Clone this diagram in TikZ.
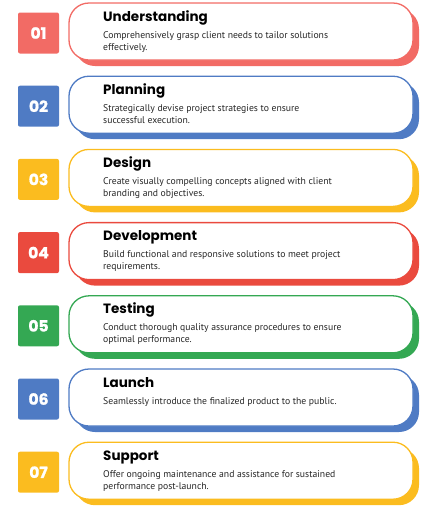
\documentclass[tikz,border=0pt]{standalone}
\usepackage{fontspec}
\setmainfont{PT Sans}
\newfontfamily\popfont{Poppins}
\newfontfamily\popheavy{Poppins}[BoldFeatures={FakeBold=1.2}]
\definecolor{cred}{HTML}{F26B65}
\definecolor{cblue}{HTML}{4F7BC4}
\definecolor{cyellow}{HTML}{FBBC1F}
\definecolor{cred2}{HTML}{EA4A3E}
\definecolor{cgreen}{HTML}{34A853}
\definecolor{ctext}{HTML}{262626}
\tikzset{
  numbox/.style={fill=#1, rounded corners=2pt, minimum width=41pt, minimum height=41pt, inner sep=0pt,
    text=white, font=\popheavy\bfseries\fontsize{15.5}{16}\selectfont},
  ttl/.style={anchor=base west, inner sep=0pt, font=\popfont\bfseries\fontsize{13.5}{14}\selectfont, text=black},
  dsc/.style={anchor=base west, inner sep=0pt, font=\fontsize{9.7}{11}\selectfont, text=ctext},
}
\newcommand\stepcard[6]{%
  \pgfmathsetmacro\tp{3+73.2*(#1-1)}
  \fill[#2, rounded corners=20pt] (75,\tp+6) rectangle (419,\tp+63);
  \draw[#2, line width=1.3pt, fill=white, rounded corners=20pt] (69,\tp) rectangle (413,\tp+57);
  \node[numbox=#2] (sq#1) at (38.5,\tp+30) {#3};
  \node[ttl] (t#1) at (103,\tp+18) {#4};
  \node[dsc] (da#1) at (103,\tp+35) {#5};
  \node[dsc] (db#1) at (103,\tp+47) {#6};
}
\begin{document}
\begin{tikzpicture}[x=1pt,y=-1pt]
\useasboundingbox (0,0) rectangle (437,507);
\stepcard{1}{cred}{01}{Understanding}{Comprehensively grasp client needs to tailor solutions}{effectively.}
\stepcard{2}{cblue}{02}{Planning}{Strategically devise project strategies to ensure}{successful execution.}
\stepcard{3}{cyellow}{03}{Design}{Create visually compelling concepts aligned with client}{branding and objectives.}
\stepcard{4}{cred2}{04}{Development}{Build functional and responsive solutions to meet project}{requirements.}
\stepcard{5}{cgreen}{05}{Testing}{Conduct thorough quality assurance procedures to ensure}{optimal performance.}
\stepcard{6}{cblue}{06}{Launch}{Seamlessly introduce the finalized product to the public.}{}
\stepcard{7}{cyellow}{07}{Support}{Offer ongoing maintenance and assistance for sustained}{performance post-launch.}
\end{tikzpicture}
\end{document}
